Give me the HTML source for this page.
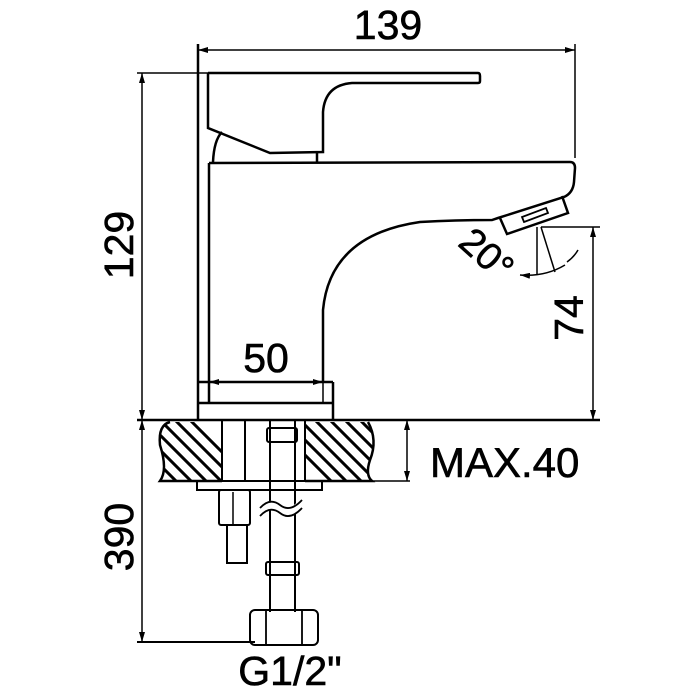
<!DOCTYPE html>
<html><head><style>body{margin:0;background:#fff}svg{display:block}</style></head><body>
<svg width="700" height="700" viewBox="0 0 700 700" xmlns="http://www.w3.org/2000/svg" font-family="Liberation Sans, sans-serif">
<rect width="700" height="700" fill="#fff"/>
<defs>
<marker id="a" viewBox="0 0 10 6" refX="10" refY="3" markerWidth="10" markerHeight="6" orient="auto-start-reverse" markerUnits="userSpaceOnUse"><path d="M0,0L10,3L0,6z" fill="#000"/></marker>
<clipPath id="cl"><path d="M170,422 Q158,425 160,445 Q168,470 160,481 L222,481 L222,422Z"/><path d="M305,422 L368,422 Q378,440 370,460 Q365,475 372,481 L305,481Z"/></clipPath>
</defs>
<g fill="none" stroke="#000" stroke-width="2.5">
<line x1="198" y1="50" x2="575" y2="50" stroke-width="1.5" marker-start="url(#a)" marker-end="url(#a)"/>
<line x1="198" y1="44" x2="198" y2="420"/>
<line x1="575" y1="44" x2="575" y2="158" stroke-width="1.5"/>
<line x1="142" y1="73" x2="142" y2="420" stroke-width="1.5" marker-start="url(#a)" marker-end="url(#a)"/>
<line x1="137" y1="73" x2="208" y2="73" stroke-width="1.5"/>
<line x1="137" y1="420" x2="600" y2="420"/>
<path d="M208,73 L478,73 Q480,73 480,76 L480,81 Q480,83 478,83 L352,83 Q325,85 323,112 L323,152 L270,153 L208,128 L208,73"/>
<line x1="317" y1="153" x2="317" y2="162"/>
<path d="M213,162 Q214,140 222,132"/>
<line x1="209" y1="163" x2="209" y2="403"/>
<path d="M209,163 L570,162 Q575,162 575,168 L574,182 Q573,193 564,197 L498,218 L492,220 Q455,220 420,222 Q330,235 323,310 L323,382"/>
<path d="M500,218 L507,234 L568,213 L562,196" />
<path d="M524,222 L548,213 L546,208 L522,217Z" stroke-width="1.8"/>
<line x1="198" y1="382" x2="333" y2="382"/>
<line x1="198" y1="403" x2="333" y2="403"/>
<line x1="333" y1="382" x2="333" y2="420"/>
<line x1="209" y1="382" x2="323" y2="382" stroke-width="1.5" marker-start="url(#a)" marker-end="url(#a)"/>
<line x1="323" y1="382" x2="323" y2="403" stroke-width="1.5"/>
<line x1="541" y1="227" x2="600" y2="227" stroke-width="1.5"/>
<line x1="593" y1="227" x2="593" y2="420" stroke-width="1.5" marker-start="url(#a)" marker-end="url(#a)"/>
<line x1="537" y1="227" x2="537" y2="275" stroke-width="1.5"/>
<line x1="541" y1="227" x2="555" y2="272" stroke-width="1.5"/>
<path d="M520,275 Q545,277 565,265" stroke-width="1.5" marker-start="url(#a)"/>
<path d="M567,262 Q574,257 578,250" stroke-width="1.5"/>
<path d="M170,422 Q158,425 160,445 Q168,470 160,481 L222,481" stroke-width="2.5"/>
<path d="M368,422 Q378,440 370,460 Q365,475 372,481 L305,481" stroke-width="2.5"/>
<line x1="160" y1="481" x2="410" y2="481" stroke-width="1.5"/>
<g clip-path="url(#cl)" stroke-width="3">
<path d="M130,420 l70,70 M145,420 l70,70 M160,420 l70,70 M175,420 l70,70 M190,420 l70,70 M115,420 l70,70 M270,420 l70,70 M285,420 l70,70 M300,420 l70,70 M315,420 l70,70 M330,420 l70,70 M345,420 l70,70 M360,420 l70,70"/>
</g>
<line x1="222" y1="420" x2="222" y2="481" stroke-width="2"/>
<line x1="245" y1="420" x2="245" y2="481" stroke-width="2"/>
<line x1="305" y1="420" x2="305" y2="481" stroke-width="2"/>
<rect x="267" y="428" width="30" height="14" rx="2" stroke-width="2"/>
<line x1="270" y1="420" x2="270" y2="612" stroke-width="2"/>
<line x1="295" y1="420" x2="295" y2="612" stroke-width="2"/>
<rect x="197" y="481" width="125" height="9" stroke-width="2"/>
<rect x="219" y="490" width="31" height="35" rx="2" stroke-width="2"/>
<line x1="233" y1="492" x2="233" y2="525" stroke-width="1.5"/>
<rect x="227" y="525" width="20" height="38" stroke-width="2"/>
<path d="M260,512 Q270,500 280,508 T300,505" stroke="#fff" stroke-width="8"/>
<path d="M260,508 Q270,497 280,505 T302,500 M260,516 Q270,505 280,513 T302,508" stroke-width="1.8"/>
<rect x="266" y="562" width="33" height="13" rx="2" stroke-width="2"/>
<rect x="250" y="610" width="68" height="35" rx="5" stroke-width="2"/>
<line x1="266" y1="610" x2="266" y2="645" stroke-width="1.8"/>
<line x1="302" y1="610" x2="302" y2="645" stroke-width="1.8"/>
<line x1="407" y1="420" x2="407" y2="481" stroke-width="1.5" marker-start="url(#a)" marker-end="url(#a)"/>
<line x1="142" y1="420" x2="142" y2="642" stroke-width="1.5" marker-start="url(#a)" marker-end="url(#a)"/>
<line x1="137" y1="642" x2="255" y2="642" stroke-width="2"/>
</g>
<g font-size="41" fill="#000" stroke="#000" stroke-width="0.6">
<text x="388" y="39" text-anchor="middle">139</text>
<text x="266" y="372" text-anchor="middle">50</text>
<text transform="translate(133,245) rotate(-90)" text-anchor="middle">129</text>
<text transform="translate(583,318) rotate(-90)" text-anchor="middle">74</text>
<text transform="translate(133,537) rotate(-90)" text-anchor="middle">390</text>
<text x="430" y="477" font-size="42">MAX.40</text>
<text x="290" y="685" text-anchor="middle">G1/2"</text>
<text transform="translate(478,264) rotate(42)" text-anchor="middle" font-size="38">20°</text>
</g>
</svg>
</body></html>
